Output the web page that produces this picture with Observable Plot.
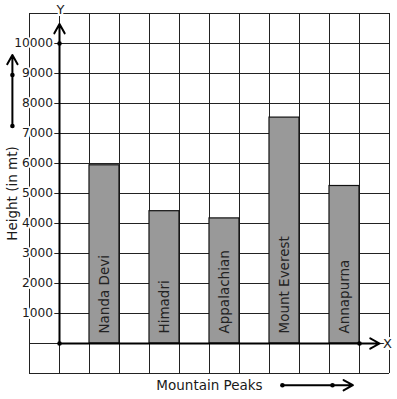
<!DOCTYPE html>
<html>
<head>
<meta charset="utf-8">
<script src="https://cdn.jsdelivr.net/npm/d3@7"></script>
<script src="https://cdn.jsdelivr.net/npm/@observablehq/plot@0.6"></script>
<style>
  html, body { margin: 0; padding: 0; background: white; }
  #chart svg { display: block; }
</style>
</head>
<body>
<div id="chart"></div>
<script>
// ---- data ----
const peaks = ["Nanda Devi", "Himadri", "Appalachian", "Mount Everest", "Annapurna"];
const heights = [5940, 4410, 4170, 7530, 5250];
const yTicks = [1000, 2000, 3000, 4000, 5000, 6000, 7000, 8000, 9000, 10000];
const yTickLabels = ["1000", "2000", "3000", "4000", "5000", "6000", "7000", "8000", "9000", "10000"];
const xTitle = "Mountain Peaks";
const yTitle = "Height (in mt)";

// grid columns (x units) and rows (value units)
const gridCols = d3.range(0, 13);
const gridRows = d3.range(-1000, 11001, 1000);

const bars = peaks.map((name, i) => ({name, height: heights[i], col: 2 + 2 * i}));

const ink = "#1a1a1a";
const font = "DejaVu Sans";

const chart = Plot.plot({
  width: 397,
  height: 399,
  marginLeft: 29,
  marginRight: 8,
  marginTop: 13,
  marginBottom: 26,
  style: {fontFamily: font, background: "white", overflow: "visible"},
  x: {domain: [0, 12], axis: null},
  y: {domain: [-1000, 11000], axis: null},
  marks: [
    // grid
    Plot.ruleX(gridCols, {stroke: "#222", strokeWidth: 1, strokeOpacity: 1}),
    Plot.ruleY(gridRows, {stroke: "#222", strokeWidth: 1, strokeOpacity: 1}),
    // bars
    Plot.rectY(bars, {x1: "col", x2: d => d.col + 1, y1: 0, y2: "height", fill: "#999999", stroke: "#111", strokeWidth: 1.2}),
    // bar labels
    Plot.text(bars, {x: d => d.col + 0.5, y: 0, text: "name", rotate: -90, textAnchor: "start", dy: -10, fontSize: 13.5, fill: "#222"}),
    // axes arrows
    Plot.arrow([{x1: 1, y1: 0, x2: 1, y2: 10650}], {x1: "x1", y1: "y1", x2: "x2", y2: "y2", stroke: "black", strokeWidth: 2, headLength: 8, headAngle: 58}),
    Plot.arrow([{x1: 1, y1: 0, x2: 11.67, y2: 0}], {x1: "x1", y1: "y1", x2: "x2", y2: "y2", stroke: "black", strokeWidth: 2, headLength: 8, headAngle: 58}),
    // direction arrows
    Plot.arrow([{x1: -0.57, y1: 7250, x2: -0.57, y2: 9620}], {x1: "x1", y1: "y1", x2: "x2", y2: "y2", stroke: "black", strokeWidth: 2, headLength: 8, headAngle: 58}),
    Plot.arrow([{x1: 8.43, y1: -1390, x2: 10.78, y2: -1390}], {x1: "x1", y1: "y1", x2: "x2", y2: "y2", stroke: "black", strokeWidth: 2, headLength: 8, headAngle: 58}),
    // dots
    Plot.dot([{x: 1, y: 0}, {x: 1, y: 10000}, {x: 11, y: 0}, {x: -0.57, y: 7250}, {x: -0.57, y: 8950}, {x: 8.43, y: -1390}, {x: 10.1, y: -1390}], {x: "x", y: "y", r: 2.3, fill: "black", stroke: null}),
    // y tick labels
    Plot.text(yTicks, {x: 1, y: d => d, text: (d, i) => yTickLabels[i], textAnchor: "end", dx: -6.5, fontSize: 12.2, fill: ink, stroke: "white", strokeWidth: 4, paintOrder: "stroke"}),
    // axis letters
    Plot.text(["Y"], {x: 1, y: 11110, text: d => d, dx: 1, fontSize: 13, fill: ink, stroke: "white", strokeWidth: 4, paintOrder: "stroke"}),
    Plot.text(["X"], {x: 11.93, y: 0, text: d => d, fontSize: 13, fill: ink, stroke: "white", strokeWidth: 4, paintOrder: "stroke"}),
    // titles
    Plot.text([xTitle], {x: 6, y: -1390, text: d => d, fontSize: 13.5, fill: ink}),
    Plot.text([yTitle], {x: -0.57, y: 5000, text: d => d, rotate: -90, fontSize: 13.5, fill: ink})
  ]
});

document.getElementById("chart").appendChild(chart);
</script>
</body>
</html>
